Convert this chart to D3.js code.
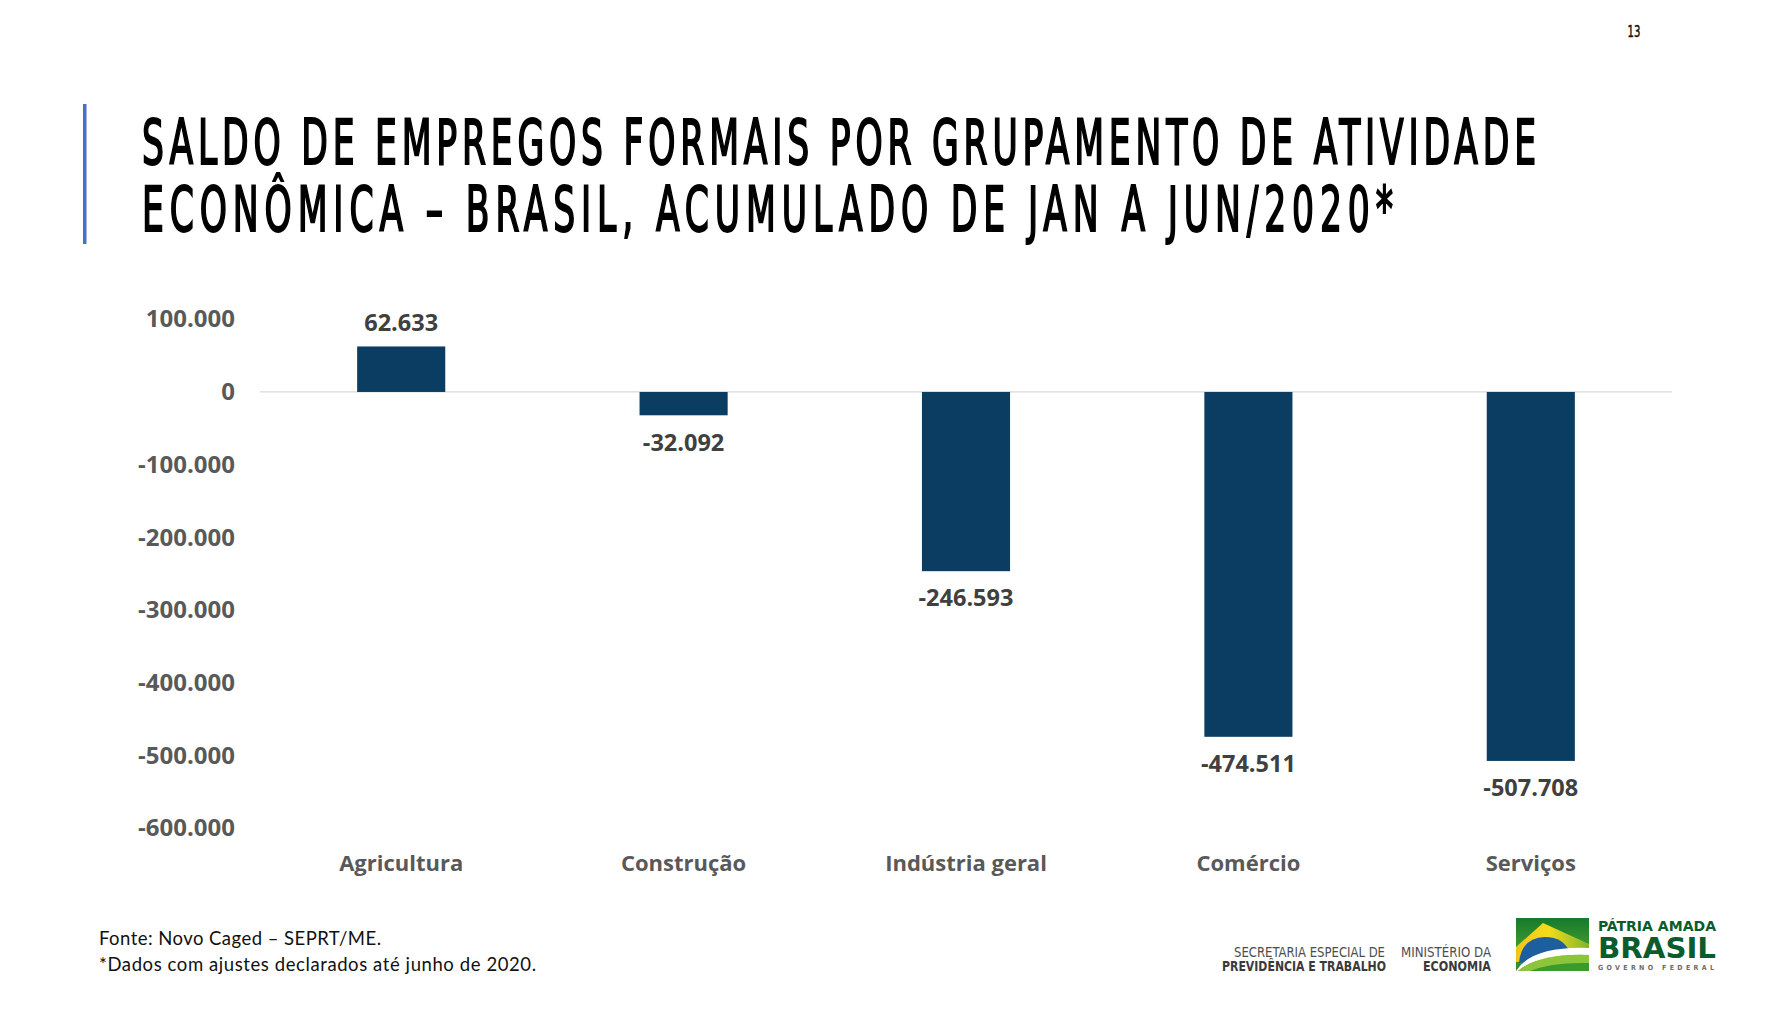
<!DOCTYPE html>
<html>
<head>
<meta charset="utf-8">
<script src="https://cdn.jsdelivr.net/npm/d3@7.9.0/dist/d3.min.js"></script>
<style>
  body { margin: 0; background: #fff; }
  svg { display: block; }
</style>
</head>
<body>
<svg id="chart" width="1770" height="1016"></svg>
<script>
// data
const categories = ['Agricultura', 'Construção', 'Indústria geral', 'Comércio', 'Serviços'];
const saldo = [62633, -32092, -246593, -474511, -507708];
const yTicks = [100000, 0, -100000, -200000, -300000, -400000, -500000, -600000];
const titleLines = [
  'SALDO DE EMPREGOS FORMAIS POR GRUPAMENTO DE ATIVIDADE',
  'ECONÔMICA – BRASIL, ACUMULADO DE JAN A JUN/2020*'
];
const notes = ['Fonte: Novo Caged – SEPRT/ME.', '*Dados com ajustes declarados até junho de 2020.'];

const ptBR = d3.formatLocale({ decimal: ',', thousands: '.', grouping: [3], currency: ['R$', ''], minus: '-' });
const fmt = ptBR.format(',d');

const svg = d3.select('#chart');
const narrow = '"Liberation Sans Narrow", "DejaVu Sans Condensed", sans-serif';
const labelFont = '"Open Sans", "Noto Sans", sans-serif';

// page number + title
svg.append('text')
  .attr('transform', 'translate(1634,37) scale(0.7,1)')
  .attr('text-anchor', 'middle')
  .style('font-family', narrow).style('font-size', '16px')
  .attr('fill', '#111').attr('stroke', '#111').attr('stroke-width', 0.5)
  .text('13');

svg.append('rect')
  .attr('x', 83).attr('y', 104).attr('width', 3.5).attr('height', 140)
  .attr('fill', '#4472c4');

// condensed title: squeeze glyphs, then open up the letter spacing to fill the line
const titleWidths = [1394, 1251];
const squeeze = 0.62;
titleLines.forEach((t, i) => {
  const txt = svg.append('text')
    .attr('transform', `translate(142,${164 + i * 67}) scale(${squeeze},1)`)
    .style('font-family', narrow).style('font-size', '62px').style('font-weight', 400)
    .attr('fill', '#000')
    .attr('stroke', '#000').attr('stroke-width', 2)
    .text(t);
  const natural = txt.node().getComputedTextLength();
  const ls = (titleWidths[i] / squeeze - natural) / (t.length - 1);
  txt.style('letter-spacing', ls + 'px');
});

// scales
const x = d3.scaleBand()
  .domain(categories)
  .range([260, 1672])
  .paddingInner(0.688)
  .paddingOuter(0.344);

const y = d3.scaleLinear()
  .domain([-600000, 100000])
  .range([828, 319.3]);

// y axis (labels only)
const yAxis = svg.append('g')
  .attr('transform', 'translate(235,0)')
  .call(d3.axisLeft(y).tickValues(yTicks).tickFormat(fmt).tickSize(0).tickPadding(0));
yAxis.select('.domain').remove();
yAxis.selectAll('text')
  .style('font-family', labelFont).style('font-size', '24px').style('font-weight', 700)
  .attr('fill', '#595959');

// zero line
svg.append('line')
  .attr('x1', 260).attr('x2', 1672)
  .attr('y1', y(0)).attr('y2', y(0))
  .attr('stroke', '#d9d9d9').attr('stroke-width', 1.3);

// bars
const data = categories.map((c, i) => ({ cat: c, value: saldo[i] }));

svg.append('g').selectAll('rect')
  .data(data)
  .join('rect')
  .attr('x', d => x(d.cat))
  .attr('width', x.bandwidth())
  .attr('y', d => y(Math.max(0, d.value)))
  .attr('height', d => Math.abs(y(d.value) - y(0)))
  .attr('fill', '#0b3d62');

// value labels
svg.append('g').selectAll('text')
  .data(data)
  .join('text')
  .attr('x', d => x(d.cat) + x.bandwidth() / 2)
  .attr('y', d => d.value >= 0 ? y(d.value) - 24 : y(d.value) + 27)
  .attr('dy', '0.35em')
  .attr('text-anchor', 'middle')
  .style('font-family', labelFont).style('font-size', '23.5px').style('font-weight', 700)
  .attr('fill', '#404040')
  .text(d => fmt(d.value));

// category labels
const xAxis = svg.append('g')
  .attr('transform', 'translate(0,863)')
  .call(d3.axisBottom(x).tickSize(0).tickPadding(0));
xAxis.select('.domain').remove();
xAxis.selectAll('text')
  .attr('y', 0).attr('dy', '0.35em')
  .style('font-family', labelFont).style('font-size', '22px').style('font-weight', 700)
  .attr('fill', '#595959');

// footnotes
const noteWidths = [282, 437];
notes.forEach((t, i) => {
  svg.append('text')
    .attr('x', 99).attr('y', 945 + i * 26)
    .attr('textLength', noteWidths[i])
    .style('font-family', 'Lato, "Noto Sans", sans-serif').style('font-size', '18.5px')
    .attr('fill', '#111')
    .text(t);
});

// footer logos
const logo = svg.append('g');
const logoText = (txt, xx, yy, size, w, weight, color, adjust) => {
  logo.append('text')
    .attr('x', xx).attr('y', yy)
    .attr('textLength', w)
    .attr('lengthAdjust', adjust || 'spacingAndGlyphs')
    .style('font-family', narrow).style('font-size', size + 'px').style('font-weight', weight)
    .attr('fill', color)
    .text(txt);
};
logoText('SECRETARIA ESPECIAL DE', 1234, 957, 14, 151, 400, '#4d4d4d');
logoText('PREVIDÊNCIA E TRABALHO', 1222, 970.5, 14, 164, 700, '#3a3a3a');
logoText('MINISTÉRIO DA', 1401, 957, 14, 90, 400, '#4d4d4d');
logoText('ECONOMIA', 1423, 970.5, 14, 68, 700, '#3a3a3a');
logoText('PÁTRIA AMADA', 1598, 930.5, 14, 118, 700, '#0b5b2c');
logoText('BRASIL', 1598, 957.5, 28, 118, 700, '#0b5b2c');
logoText('GOVERNO FEDERAL', 1598, 970, 7, 116, 700, '#6b6b6b', 'spacing');

const defs = svg.append('defs');
const gGreen = defs.append('linearGradient').attr('id', 'flagGreen')
  .attr('x1', 0).attr('y1', 0).attr('x2', 0).attr('y2', 1);
gGreen.append('stop').attr('offset', '0%').attr('stop-color', '#157a2c');
gGreen.append('stop').attr('offset', '55%').attr('stop-color', '#3f9a2e');
gGreen.append('stop').attr('offset', '100%').attr('stop-color', '#2f8c2a');
const gYellow = defs.append('linearGradient').attr('id', 'flagYellow')
  .attr('x1', 0).attr('y1', 0).attr('x2', 1).attr('y2', 0);
gYellow.append('stop').attr('offset', '0%').attr('stop-color', '#f6c31a');
gYellow.append('stop').attr('offset', '45%').attr('stop-color', '#f3dc1c');
gYellow.append('stop').attr('offset', '100%').attr('stop-color', '#7fb52a');

logo.append('rect')
  .attr('x', 1516).attr('y', 918).attr('width', 73).attr('height', 53)
  .attr('fill', 'url(#flagGreen)');
logo.append('path')
  .attr('d', 'M1516,947 L1543,923 L1589,944 L1589,958 L1516,962 Z')
  .attr('fill', 'url(#flagYellow)');
logo.append('path')
  .attr('d', 'M1519,963 Q1521,938 1545,937 Q1564,937 1570,953 Z')
  .attr('fill', '#1d5f9e');
logo.append('path')
  .attr('d', 'M1516,971 Q1532,946 1589,948 L1589,955 Q1540,953 1518,971 Z')
  .attr('fill', '#fff');
logo.append('path')
  .attr('d', 'M1518,971 Q1540,953 1589,955 L1589,971 Z')
  .attr('fill', '#8cc43a');
logo.append('path')
  .attr('d', 'M1530,971 Q1552,962 1589,963 L1589,971 Z')
  .attr('fill', '#3a9a2e');
</script>
</body>
</html>
